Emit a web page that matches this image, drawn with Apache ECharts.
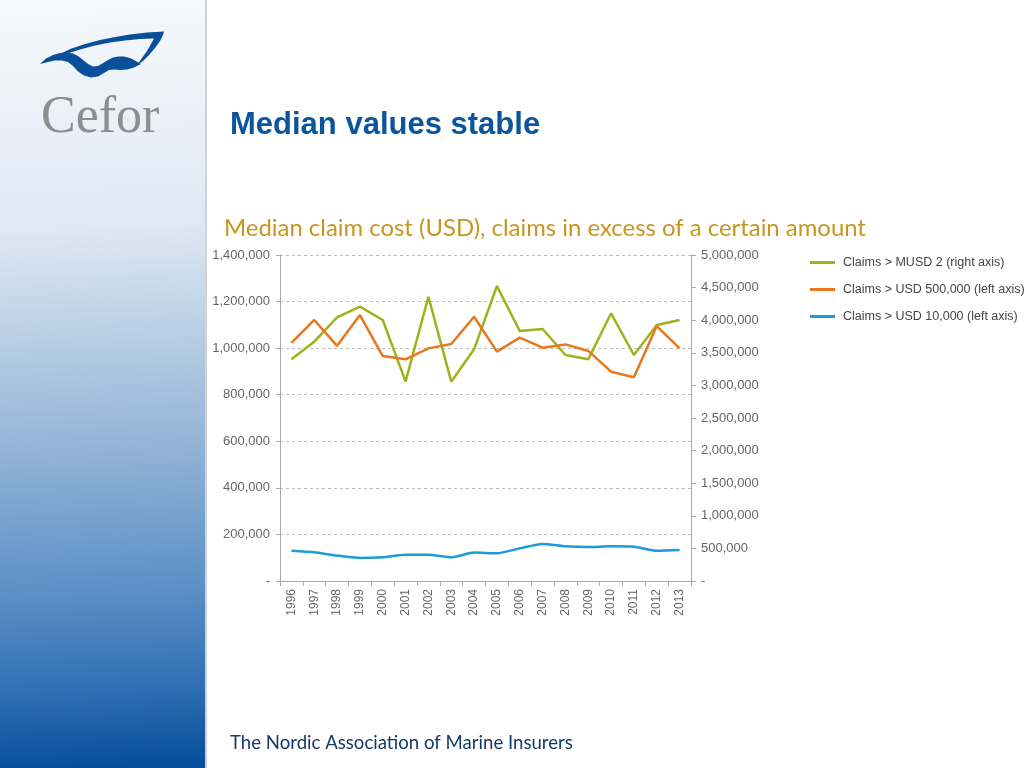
<!DOCTYPE html>
<html>
<head>
<meta charset="utf-8">
<style>
html,body{margin:0;padding:0;background:#fff;}
#chart{width:1024px;height:768px;}
</style>
<script src="https://cdn.jsdelivr.net/npm/echarts@6/dist/echarts.min.js"></script>
</head>
<body>
<div id="chart"></div>
<script>
var years = ['1996','1997','1998','1999','2000','2001','2002','2003','2004','2005','2006','2007','2008','2009','2010','2011','2012','2013'];
var claimsOver2M = [3400000,3670000,4044000,4207000,4003000,3057000,4360000,3057000,3553000,4524000,3834000,3865000,3466000,3400000,4106000,3466000,3926000,4003000];
var claimsOver500k = [1023000,1121000,1010000,1142000,966000,952000,999000,1018000,1135000,985000,1045000,1002000,1016000,988000,899000,875000,1095000,999000];
var claimsOver10k = [130000,123000,109000,99000,102000,113000,113000,102000,122000,119000,140000,159000,149000,146000,149000,147000,130000,133000];
var seriesNames = ['Claims > MUSD 2 (right axis)','Claims > USD 500,000 (left axis)','Claims > USD 10,000 (left axis)'];
var leftTicks = {min:0, max:1400000, interval:200000};
var rightTicks = {min:0, max:5000000, interval:500000};

function fmt(v){ return v === 0 ? '-' : v.toLocaleString('en-US'); }

var logoArc = [[58,55],[70,49],[85,44],[100,40],[115,37],[130,34.5],[147,32.5],[164,31.5],[163,35],[160,41],[155,48],[149,55],[143,61],[137,65],[142,58],[147,51],[151,44],[154,38.5],[140,39],[125,40.5],[110,42.5],[95,45.5],[80,49.5],[66,54]];
var logoWave = [[40,64],[46,58.5],[53,55],[60,53],[67,52.5],[73,53.5],[78,56],[83,60],[88,64],[93,66.5],[98,66],[103,63],[108,60],[113,57.5],[118,56.5],[124,56.5],[130,58],[135,60.5],[141,64],[134,67.5],[127,69.5],[120,70],[114,69.5],[109,70],[104,73],[98,76.5],[91,77.5],[84,75.5],[78,71.5],[73,66],[68,62],[62,60.5],[55,60.5],[48,62]];

var chart = echarts.init(document.getElementById('chart'));
var axisFont = {fontFamily:'Liberation Sans, Arial, sans-serif', fontSize:13, color:'#666'};
chart.setOption({
  backgroundColor:'#ffffff',
  animation:false,
  graphic:[
    {type:'rect', shape:{x:0,y:0,width:205,height:768}, z:-10,
      style:{fill:{type:'linear', x:0, y:0, x2:0.15, y2:1, colorStops:[
        {offset:0,color:'#f6f9fc'},
        {offset:0.3,color:'#dfe8f3'},
        {offset:0.44,color:'#b9cfe4'},
        {offset:0.6,color:'#8fb1d5'},
        {offset:0.78,color:'#5a8ec5'},
        {offset:0.9,color:'#3070b3'},
        {offset:1,color:'#0a4e9b'}]}}},
    {type:'rect', shape:{x:205,y:0,width:2,height:768}, z:-9, style:{fill:'#cfd2d6'}},
    {type:'polygon', z:5, shape:{points:logoArc, smooth:0}, style:{fill:'#0a4f9a'}},
    {type:'polygon', z:5, shape:{points:logoWave, smooth:0}, style:{fill:'#0a4f9a'}},
    {type:'text', z:5, left:41, top:92, style:{text:'Cefor', font:'52px "Liberation Serif", "Times New Roman", serif', fill:'#8c8e90'}},
    {type:'text', left:230, top:110, style:{text:'Median values stable', font:'bold 31px "Liberation Sans", Arial, sans-serif', fill:'#0b559f'}},
    {type:'text', left:224, top:216, style:{text:'Median claim cost (USD), claims in excess of a certain amount', font:'23.9px Lato, "Open Sans", sans-serif', fill:'#c8961e'}},
    {type:'text', left:230, top:733, style:{text:'The Nordic Association of Marine Insurers', font:'18.6px Lato, "Open Sans", sans-serif', fill:'#17386b'}}
  ],
  legend:{
    orient:'vertical', left:810, top:256, padding:0, itemGap:14, itemWidth:25, itemHeight:3, icon:'rect',
    textStyle:{fontFamily:'Liberation Sans, Arial, sans-serif', fontSize:12.5, color:'#444', padding:[0,0,0,3]},
    data:seriesNames
  },
  grid:{left:280, right:333, top:255, bottom:187, containLabel:false},
  xAxis:{
    type:'category', data:years, boundaryGap:true,
    axisLine:{lineStyle:{color:'#aaaaaa'}},
    axisTick:{show:true, alignWithLabel:false, length:5, lineStyle:{color:'#aaaaaa'}},
    axisLabel:Object.assign({rotate:90, margin:8, interval:0}, axisFont, {fontSize:12})
  },
  yAxis:[
    {type:'value', position:'left', min:leftTicks.min, max:leftTicks.max, interval:leftTicks.interval,
      axisLine:{show:true, lineStyle:{color:'#aaaaaa'}},
      axisTick:{show:true, length:4, lineStyle:{color:'#aaaaaa'}},
      splitLine:{show:true, lineStyle:{color:'#bbbbbb', type:[3,3]}},
      axisLabel:Object.assign({formatter:fmt, margin:10}, axisFont)},
    {type:'value', position:'right', min:rightTicks.min, max:rightTicks.max, interval:rightTicks.interval,
      axisLine:{show:true, lineStyle:{color:'#aaaaaa'}},
      axisTick:{show:true, length:5, lineStyle:{color:'#aaaaaa'}},
      splitLine:{show:false},
      axisLabel:Object.assign({formatter:fmt, margin:10}, axisFont)}
  ],
  series:[
    {name:seriesNames[0], type:'line', yAxisIndex:1, data:claimsOver2M, showSymbol:false, symbol:'none',
      lineStyle:{width:2.5, color:'#9fb21c'}, itemStyle:{color:'#9fb21c'}},
    {name:seriesNames[1], type:'line', yAxisIndex:0, data:claimsOver500k, showSymbol:false, symbol:'none',
      lineStyle:{width:2.5, color:'#e8781f'}, itemStyle:{color:'#e8781f'}},
    {name:seriesNames[2], type:'line', yAxisIndex:0, data:claimsOver10k, showSymbol:false, symbol:'none', smooth:0.2,
      lineStyle:{width:2.5, color:'#1b9bd7'}, itemStyle:{color:'#1b9bd7'}}
  ]
});
</script>
</body>
</html>
